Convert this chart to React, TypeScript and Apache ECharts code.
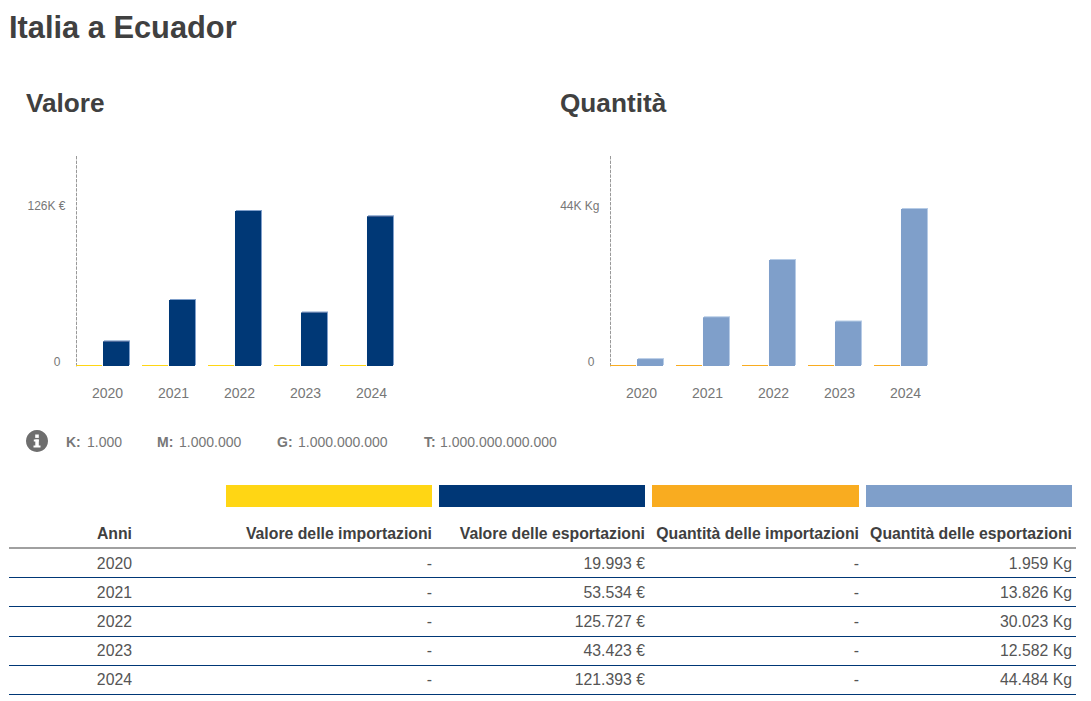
import React, { useEffect, useRef } from "react";
import * as echarts from "echarts";

const years = ["2020", "2021", "2022", "2023", "2024"];
// The import columns have no value in the table; the picture shows them as 1px-tall marks on the baseline.
const importValue = [810, 810, 810, 810, 810];
const exportValue = [19993, 53534, 125727, 43423, 121393];
const importQty = [283, 283, 283, 283, 283];
const exportQty = [1959, 13826, 30023, 12582, 44484];
const valueTicks = [0, 126000];
const qtyTicks = [0, 44000];
const valueTickLabels = ["{z|0}", "126K €"];
const qtyTickLabels = ["{z|0}", "44K Kg"];
const scaleNotes = [
  ["K:", "1.000"],
  ["M:", "1.000.000"],
  ["G:", "1.000.000.000"],
  ["T:", "1.000.000.000.000"],
];
const tableHeaders = [
  "Anni",
  "Valore delle importazioni",
  "Valore delle esportazioni",
  "Quantità delle importazioni",
  "Quantità delle esportazioni",
];
const tableValue = ["19.993 €", "53.534 €", "125.727 €", "43.423 €", "121.393 €"];
const tableQty = ["1.959 Kg", "13.826 Kg", "30.023 Kg", "12.582 Kg", "44.484 Kg"];

const FONT = '"Liberation Sans", Arial, sans-serif';
const YELLOW = "#ffd614";
const NAVY = "#003776";
const ORANGE = "#f9ac20";
const LIGHT = "#7f9fca";
const DARK = "#404040";
const GREY = "#777777";

const grids = [
  { left: 69.5, top: 155, width: 330, height: 211 },
  { left: 603.5, top: 155, width: 330, height: 211 },
];

function txt(x: number, y: number, text: string, fontSize: number, fontWeight: string, fill: string, align = "left") {
  return {
    type: "text",
    x,
    y,
    silent: true,
    style: { text, fontSize, fontWeight, fill, fontFamily: FONT, align, verticalAlign: "middle" },
  };
}

function rect(x: number, y: number, width: number, height: number, fill: string) {
  return { type: "rect", silent: true, shape: { x, y, width, height }, style: { fill } };
}

function buildGraphics() {
  const els: any[] = [
    txt(9, 27, "Italia a Ecuador", 30.8, "bold", DARK),
    txt(26, 103, "Valore", 26.2, "bold", DARK),
    txt(560, 103, "Quantità", 26.2, "bold", DARK),
    { type: "circle", silent: true, shape: { cx: 37, cy: 441, r: 11 }, style: { fill: "#6e6e6e" } },
    rect(35.2, 434.5, 3.6, 3.4, "#ffffff"),
    rect(33.8, 439.5, 5, 2, "#ffffff"),
    rect(35.3, 439.5, 3.5, 7, "#ffffff"),
    rect(33.5, 445.5, 7, 2, "#ffffff"),
  ];
  const noteX = [[66, 87], [157, 179], [277, 298], [424, 440]];
  scaleNotes.forEach((n, i) => {
    els.push(txt(noteX[i][0], 442, n[0], 14, "bold", GREY));
    els.push(txt(noteX[i][1], 442, n[1], 14, "normal", GREY));
  });
  const cols = [
    { x: 226, w: 206, c: YELLOW },
    { x: 439, w: 206, c: NAVY },
    { x: 652, w: 207, c: ORANGE },
    { x: 866, w: 206, c: LIGHT },
  ];
  cols.forEach((c) => els.push(rect(c.x, 485, c.w, 22, c.c)));
  const rights = [132, 432, 645, 859, 1072];
  tableHeaders.forEach((h, i) => els.push(txt(rights[i], 533, h, 15.8, "bold", DARK, "right")));
  els.push(rect(9, 547, 1067, 2, "#a0a0a0"));
  const rowY = [563, 592, 621, 650, 679];
  const lineY = [577, 606, 636, 665, 694];
  years.forEach((y, r) => {
    const cells = [y, "-", tableValue[r], "-", tableQty[r]];
    cells.forEach((c, i) => els.push(txt(rights[i], rowY[r] + 0.5, c, 15.8, "normal", "#555555", "right")));
    els.push(rect(9, lineY[r], 1067, 1, NAVY));
  });
  return els;
}

function axes(i: number, ticks: number[], labels: string[], max: number) {
  return {
    x: {
      type: "category",
      gridIndex: i,
      data: years,
      axisLine: { show: false },
      axisTick: { show: false },
      axisLabel: { color: GREY, fontSize: 14, fontFamily: FONT, margin: 20, padding: [0, 0, 0, 10] },
    },
    y: {
      type: "value",
      gridIndex: i,
      min: 0,
      max,
      offset: -7,
      splitLine: { show: false },
      axisTick: { show: false },
      axisLine: { show: true, lineStyle: { color: "#999999", type: [2.6, 2], width: 1 } },
      axisLabel: {
        customValues: ticks,
        color: GREY,
        fontSize: 12,
        lineHeight: 9,
        fontFamily: FONT,
        margin: 11,
        verticalAlign: "bottom",
        formatter: (v: number) => labels[ticks.indexOf(v)] ?? "",
        rich: { z: { color: GREY, fontSize: 12, lineHeight: 9, fontFamily: FONT, padding: [0, 5, 0, 0] } },
      },
    },
  };
}

function bars(i: number, name: string, data: number[], color: string, edge?: string) {
  return {
    type: "bar",
    name,
    xAxisIndex: i,
    yAxisIndex: i,
    data,
    barWidth: 26,
    barGap: "3.8%",
    itemStyle: edge
      ? { color, shadowColor: edge, shadowBlur: 0, shadowOffsetX: 1, shadowOffsetY: -1 }
      : { color },
  };
}

export default function App() {
  const ref = useRef<HTMLDivElement>(null);
  useEffect(() => {
    document.body.style.margin = "0";
    const chart = echarts.init(ref.current!, undefined, { renderer: "svg" });
    const a = axes(0, valueTicks, valueTickLabels, 171150);
    const b = axes(1, qtyTicks, qtyTickLabels, 59784);
    chart.setOption({
      animation: false,
      backgroundColor: "#ffffff",
      textStyle: { fontFamily: FONT },
      grid: grids,
      xAxis: [a.x, b.x],
      yAxis: [a.y, b.y],
      series: [
        bars(0, "Valore delle importazioni", importValue, YELLOW),
        bars(0, "Valore delle esportazioni", exportValue, NAVY, "#7f9fca"),
        bars(1, "Quantità delle importazioni", importQty, ORANGE),
        bars(1, "Quantità delle esportazioni", exportQty, LIGHT, "#b5cbe6"),
      ],
      graphic: buildGraphics(),
    });
    return () => chart.dispose();
  }, []);
  return <div ref={ref} style={{ width: 1091, height: 701 }} />;
}
